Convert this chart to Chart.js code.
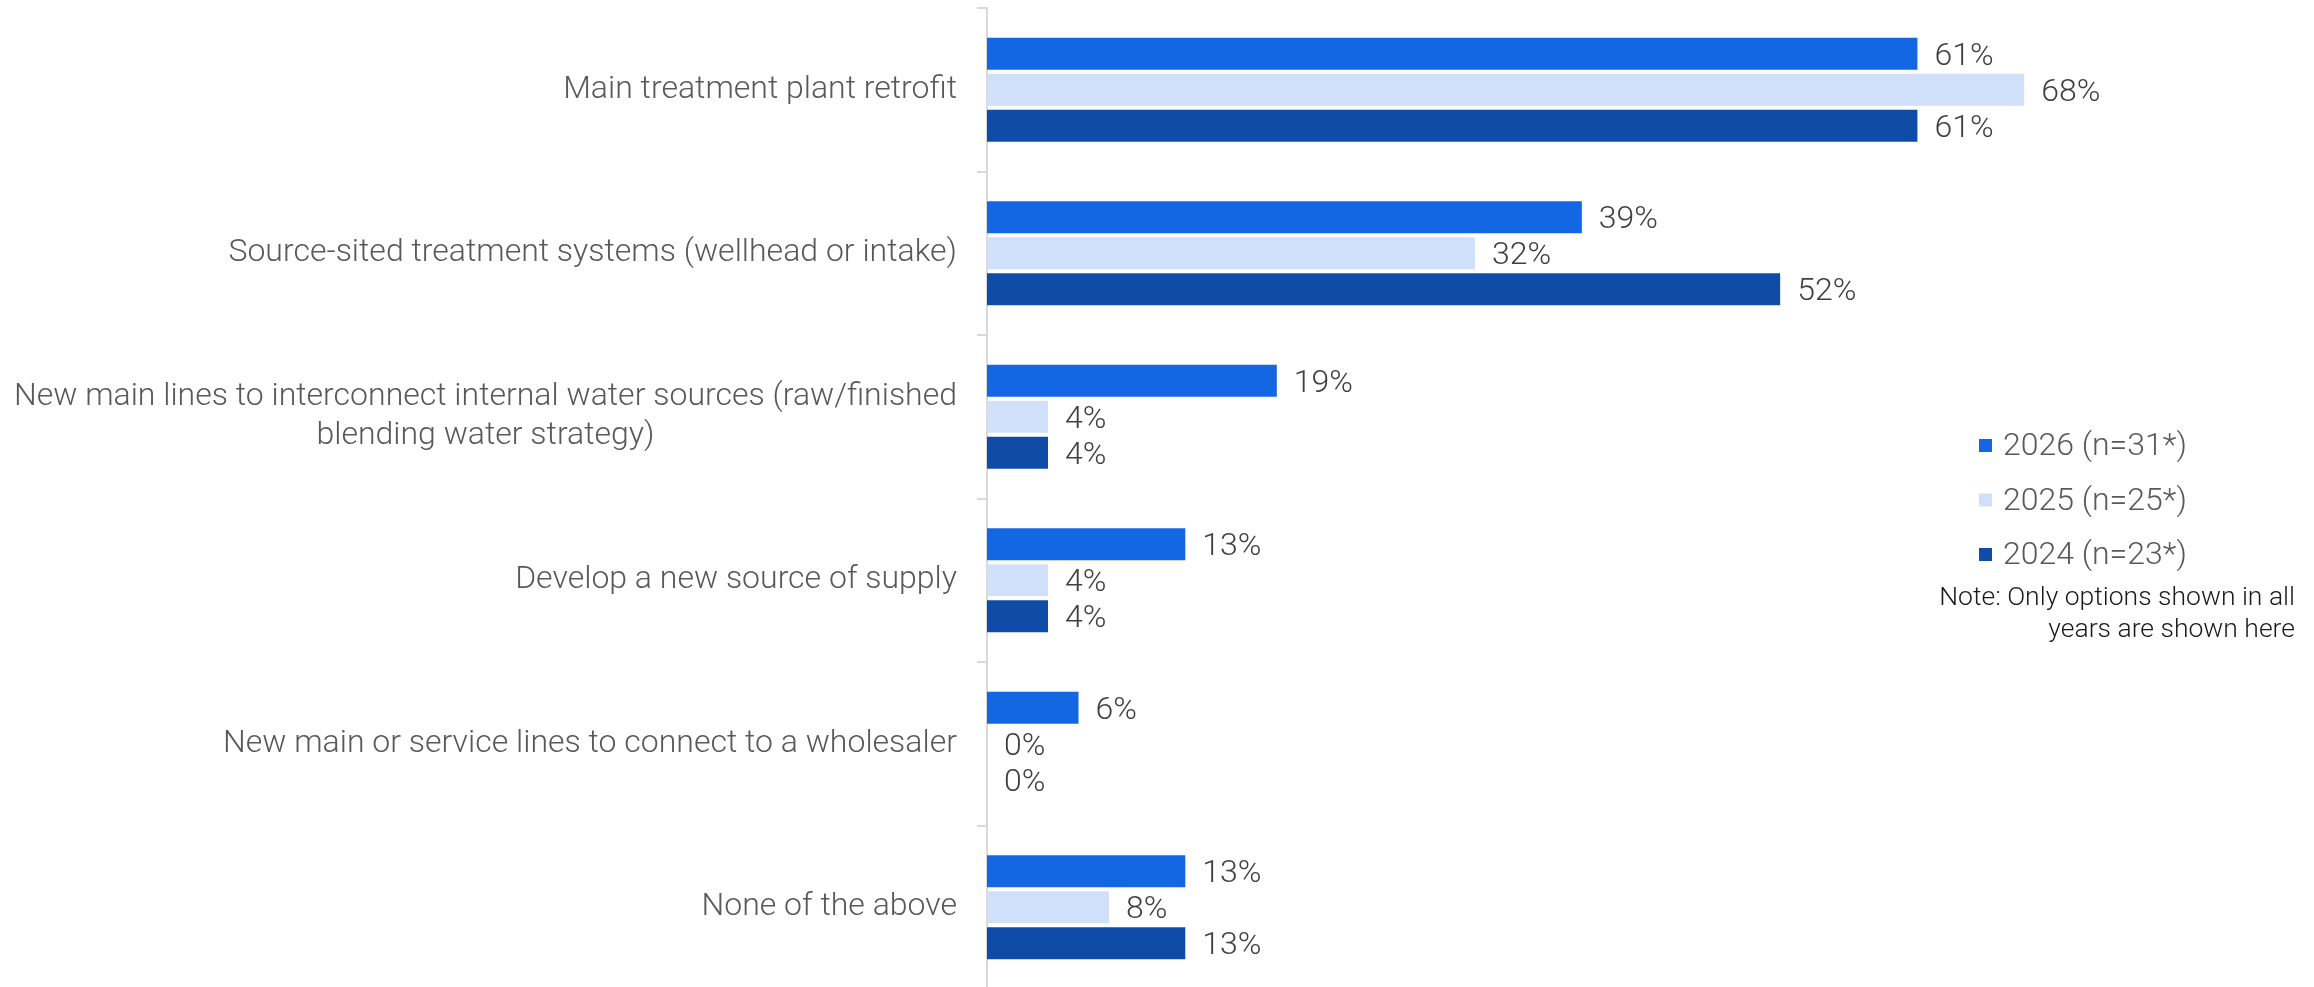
<!DOCTYPE html>
<html lang="en">
<head>
    <meta charset="UTF-8">
    <title>Treatment approaches</title>
    <script src="https://cdn.jsdelivr.net/npm/chart.js"></script>
    <style>
        body {
            margin: 0;
            background: #ffffff;
            overflow: hidden;
        }
        .wrap {
            width: 2314px;
            height: 989px;
            position: relative;
        }
    </style>
</head>
<body>
    <div class="wrap">
        <canvas id="chart"></canvas>
    </div>

    <script>
        const categories = [
            'Main treatment plant retrofit',
            'Source-sited treatment systems (wellhead or intake)',
            ['New main lines to interconnect internal water sources (raw/finished', 'blending water strategy)'],
            'Develop a new source of supply',
            'New main or service lines to connect to a wholesaler',
            'None of the above'
        ];
        const values2026 = [61, 39, 19, 13, 6, 13];
        const values2025 = [68, 32, 4, 4, 0, 8];
        const values2024 = [61, 52, 4, 4, 0, 13];
        const seriesNames = ['2026 (n=31*)', '2025 (n=25*)', '2024 (n=23*)'];
        const seriesColors = ['#1367e2', '#d0e0fa', '#0e4ca8'];
        const noteLines = ['Note: Only options shown in all', 'years are shown here'];

        const FONT = 'Roboto, "Noto Sans", sans-serif';

        // category labels: block right-aligned, lines centred inside the block
        const yLabels = {
            id: 'yLabels',
            afterDraw(chart) {
                const ctx = chart.ctx;
                const y = chart.scales.y;
                ctx.save();
                ctx.font = '300 32px ' + FONT;
                ctx.fillStyle = '#595959';
                ctx.textAlign = 'center';
                ctx.textBaseline = 'middle';
                categories.forEach((cat, i) => {
                    const lines = Array.isArray(cat) ? cat : [cat];
                    const widest = Math.max(...lines.map(l => ctx.measureText(l).width));
                    const cx = chart.chartArea.left - 30 - widest / 2;
                    const cy = y.getPixelForValue(i);
                    lines.forEach((l, j) => {
                        ctx.fillText(l, cx, cy + (j - (lines.length - 1) / 2) * 39);
                    });
                });
                ctx.restore();
            }
        };

        const valueLabels = {
            id: 'valueLabels',
            afterDatasetsDraw(chart) {
                const ctx = chart.ctx;
                ctx.save();
                ctx.font = '300 32px ' + FONT;
                ctx.fillStyle = '#404040';
                ctx.textAlign = 'left';
                ctx.textBaseline = 'middle';
                chart.data.datasets.forEach((ds, d) => {
                    chart.getDatasetMeta(d).data.forEach((bar, i) => {
                        ctx.fillText(ds.data[i] + '%', bar.x + 17, bar.y + 3);
                    });
                });
                ctx.restore();
            }
        };

        const sideLegend = {
            id: 'sideLegend',
            afterDraw(chart) {
                const ctx = chart.ctx;
                ctx.save();
                ctx.textBaseline = 'middle';
                ctx.font = '300 32px ' + FONT;
                chart.data.datasets.forEach((ds, d) => {
                    const cy = 445 + d * 54.5;
                    ctx.fillStyle = ds.backgroundColor;
                    ctx.fillRect(1979, cy - 6, 13, 13);
                    ctx.fillStyle = '#595959';
                    ctx.textAlign = 'left';
                    ctx.fillText(ds.label, 2003, cy + 2);
                });
                ctx.font = '300 26.5px ' + FONT;
                ctx.fillStyle = '#1a1a1a';
                ctx.textAlign = 'right';
                noteLines.forEach((l, j) => {
                    ctx.fillText(l, 2295, 598 + j * 32);
                });
                ctx.restore();
            }
        };

        new Chart(document.getElementById('chart'), {
            type: 'bar',
            data: {
                labels: categories,
                datasets: [
                    { label: seriesNames[0], data: values2026, backgroundColor: seriesColors[0] },
                    { label: seriesNames[1], data: values2025, backgroundColor: seriesColors[1] },
                    { label: seriesNames[2], data: values2024, backgroundColor: seriesColors[2] }
                ]
            },
            options: {
                indexAxis: 'y',
                responsive: true,
                maintainAspectRatio: false,
                animation: false,
                categoryPercentage: 0.66,
                barPercentage: 0.89,
                layout: { padding: { top: 8, right: 0, bottom: 0, left: 0 } },
                plugins: {
                    legend: { display: false },
                    tooltip: { enabled: false }
                },
                scales: {
                    x: {
                        min: 0,
                        max: 87,
                        display: false
                    },
                    y: {
                        ticks: { display: false },
                        grid: {
                            drawOnChartArea: false,
                            drawTicks: true,
                            tickLength: 10,
                            color: '#d9d9d9',
                            lineWidth: 2
                        },
                        border: { color: '#d9d9d9', width: 2 },
                        afterFit(scale) { scale.width = 987; }
                    }
                }
            },
            plugins: [yLabels, valueLabels, sideLegend]
        });
    </script>
</body>
</html>
